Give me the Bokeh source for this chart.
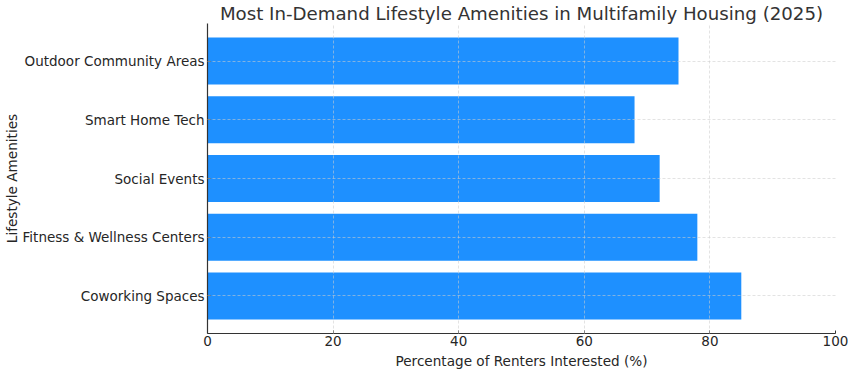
from bokeh.plotting import figure
from bokeh.models import FactorRange, Range1d, FixedTicker, ColumnDataSource, Title
from bokeh.embed import file_html
from bokeh.resources import INLINE

amenities = ["Coworking Spaces", "Fitness & Wellness Centers", "Social Events",
             "Smart Home Tech", "Outdoor Community Areas"]
interest = [85, 78, 72, 68, 75]
x_ticks = [0, 20, 40, 60, 80, 100]

src = ColumnDataSource(dict(amenity=amenities, value=interest))

FONT = "DejaVu Sans"
p = figure(width=848, height=370, output_backend="svg", toolbar_location=None,
           y_range=FactorRange(*amenities, range_padding=0.056),
           x_range=Range1d(0, 100),
           title="Most In-Demand Lifestyle Amenities in Multifamily Housing (2025)",
           min_border_left=0, min_border_right=13, min_border_top=0, min_border_bottom=0)

p.hbar(y="amenity", right="value", left=0, height=0.8, source=src,
       fill_color="#1E90FF", line_color=None)

p.title.text_font = FONT
p.title.text_font_size = "18.2px"
p.title.text_font_style = "normal"
p.title.text_color = "#333333"
p.title.text_line_height = 1.0
p.title.align = "center"
p.title.standoff = 0

xlabel = Title(text="Percentage of Renters Interested (%)", align="center",
               text_font=FONT, text_font_size="13.6px", text_font_style="normal",
               text_color="#262626", text_line_height=1.0, standoff=4)
p.add_layout(xlabel, "below")

p.outline_line_color = None
for g in (p.xgrid[0], p.ygrid[0]):
    g.level = "overlay"
    g.grid_line_color = "#cccccc"
    g.grid_line_dash = "3 2"
    g.grid_line_width = 0.8
    g.grid_line_alpha = 0.7

p.xaxis.ticker = FixedTicker(ticks=x_ticks)
p.yaxis.axis_label = "Lifestyle Amenities"
for ax in (p.xaxis[0], p.yaxis[0]):
    ax.major_label_text_font = FONT
    ax.major_label_text_font_size = "13.5px"
    ax.major_label_text_color = "#262626"
    ax.major_label_text_line_height = 1.0
    ax.axis_label_text_font = FONT
    ax.axis_label_text_font_size = "13.6px"
    ax.axis_label_text_font_style = "normal"
    ax.axis_label_text_color = "#262626"
    ax.axis_label_text_line_height = 1.0
    ax.axis_line_color = "#333333"
    ax.axis_line_width = 1.2
    ax.major_tick_line_color = "#333333"
    ax.major_tick_out = 0
    ax.major_tick_in = 3
    ax.minor_tick_line_color = None
    ax.major_label_standoff = 2
    ax.axis_label_standoff = 0
p.yaxis[0].major_label_standoff = 3

out = file_html(p, INLINE)
open("out.html", "w").write(out)
